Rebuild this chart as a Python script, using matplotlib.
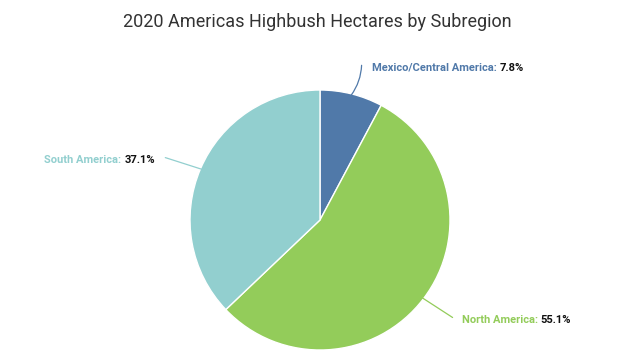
import numpy as np
import matplotlib.pyplot as plt

# data
regions = ['Mexico/Central America', 'North America', 'South America']
shares = [7.8, 55.1, 37.1]
colors = ['#5079a9', '#93cc5a', '#92cfcf']

plt.rcParams['font.family'] = ['Roboto', 'DejaVu Sans']

fig = plt.figure(figsize=(6.22, 3.54), dpi=100, facecolor='white')
ax = fig.add_axes([190 / 622, 4 / 354, 260 / 622, 260 / 354])
ax.pie(shares, colors=colors, startangle=90, counterclock=False, radius=1,
       wedgeprops=dict(edgecolor='white', linewidth=1))
ax.set_xlim(-1, 1)
ax.set_ylim(-1, 1)
ax.set_aspect('equal')
ax.axis('off')

fig.text(317 / 622, 1 - 22 / 354, '2020 Americas Highbush Hectares by Subregion',
         ha='center', va='center', fontsize=13, color='#333333')

# label layout: (elbow point, text point, side, curve) in data units
layout = {
    'Mexico/Central America': ((0.32, 1.19), (0.40, 1.17), 'left', -0.15),
    'North America': ((1.02, -0.75), (1.09, -0.77), 'left', 0.0),
    'South America': ((-1.19, 0.48), (-1.27, 0.46), 'right', 0.0),
}

fig.canvas.draw()
renderer = fig.canvas.get_renderer()
fs = 8

cum = 0
for name, val, col in zip(regions, shares, colors):
    mid = (cum + val / 2) / 100 * 360
    cum += val
    ang = np.deg2rad(90 - mid)
    px, py = np.cos(ang), np.sin(ang)
    elbow, tpos, side, rad = layout[name]
    ax.annotate('', xy=(px * 0.99, py * 0.99), xytext=elbow,
                arrowprops=dict(arrowstyle='-', color=col, lw=0.9,
                                connectionstyle='arc3,rad=%s' % rad,
                                shrinkA=0, shrinkB=0))
    lab = name + ': '
    vtxt = '%.1f%%' % val
    if side == 'left':
        t1 = ax.text(tpos[0], tpos[1], lab, color=col, fontsize=fs, fontweight='bold',
                     ha='left', va='center', clip_on=False)
        bb = t1.get_window_extent(renderer)
        x2 = ax.transData.inverted().transform((bb.x1, bb.y0))[0]
        ax.text(x2, tpos[1], vtxt, color='#111111', fontsize=fs, fontweight='bold',
                ha='left', va='center', clip_on=False)
    else:
        t2 = ax.text(tpos[0], tpos[1], vtxt, color='#111111', fontsize=fs, fontweight='bold',
                     ha='right', va='center', clip_on=False)
        bb = t2.get_window_extent(renderer)
        x1 = ax.transData.inverted().transform((bb.x0, bb.y0))[0]
        ax.text(x1, tpos[1], lab, color=col, fontsize=fs, fontweight='bold',
                ha='right', va='center', clip_on=False)

fig.savefig('out.png', dpi=100, facecolor='white')
